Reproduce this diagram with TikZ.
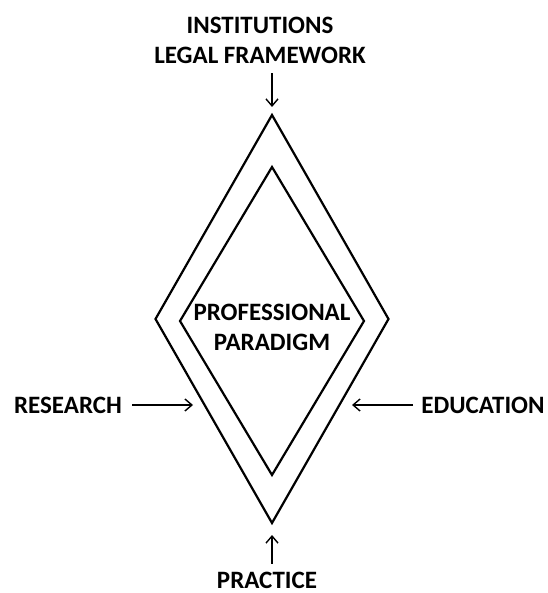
\documentclass[tikz,border=0pt]{standalone}
\usepackage{fontspec}
\setmainfont{Carlito}
\usetikzlibrary{shapes.geometric,arrows.meta}

\begin{document}
\begin{tikzpicture}[x=1pt,y=-1pt]
      \tikzstyle{term}=[font=\fontsize{25}{30}\selectfont\bfseries, align=center, inner sep=0pt]
      \tikzstyle{rhomb}=[diamond, draw=black, line width=2.2pt, inner sep=0pt, outer sep=0pt]
      \tikzstyle{connect}=[-{Straight Barb[length=7pt,width=12pt]}, line width=1.4pt]

      \useasboundingbox (0,0) rectangle (547,593);

      \node[rhomb, minimum width=233pt, minimum height=408pt] (outer) at (272,319) {};
      \node[rhomb, minimum width=184pt, minimum height=308pt] (inner) at (272,321) {};
      \node[term] (paradigm) at (272,327) {PROFESSIONAL\\PARADIGM};

      \node[term] (inst) at (260,40) {INSTITUTIONS\\LEGAL FRAMEWORK};
      \node[term] (research) at (68,405) {RESEARCH};
      \node[term] (education) at (483,405) {EDUCATION};
      \node[term] (practice) at (267,580) {PRACTICE};

      \coordinate (research in) at (193,405);
      \coordinate (education in) at (352,405);

      \path (inst.south -| outer.north) edge [connect, shorten <=10pt, shorten >=8pt] (outer.north)
            (practice.north -| outer.south) edge [connect, shorten <=8pt, shorten >=12pt] (outer.south)
            (research.east) edge [connect, shorten <=10pt] (research in)
            (education.west) edge [connect, shorten <=8pt] (education in);
\end{tikzpicture}
\end{document}
